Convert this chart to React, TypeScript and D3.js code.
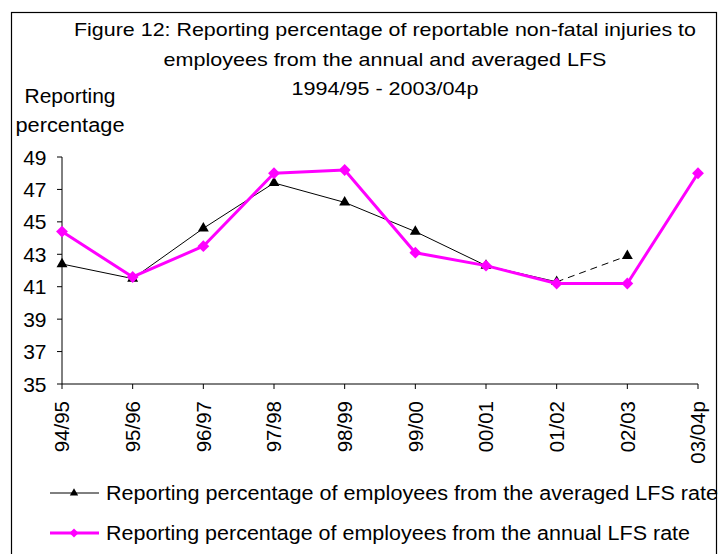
import React from 'react'
import { scalePoint, scaleLinear, line, symbol, symbolTriangle, symbolSquare } from 'd3'

// financial years along the x axis
const categories = ['94/95', '95/96', '96/97', '97/98', '98/99', '99/00', '00/01', '01/02', '02/03', '03/04p']
// reporting percentage, averaged LFS rate (no value for 03/04p)
const averagedLFS: (number | null)[] = [42.4, 41.5, 44.6, 47.4, 46.2, 44.4, 42.3, 41.3, 42.9, null]
// reporting percentage, annual LFS rate
const annualLFS = [44.4, 41.6, 43.5, 48.0, 48.2, 43.1, 42.3, 41.2, 41.2, 48.0]
const yTicks = [35, 37, 39, 41, 43, 45, 47, 49]

const titleLines = [
  'Figure 12: Reporting percentage of reportable non-fatal injuries to',
  'employees from the annual and averaged LFS',
  '1994/95 - 2003/04p',
]
const yTitleLines = ['Reporting', 'percentage']
const legendLabels = [
  'Reporting percentage of employees from the averaged LFS rate',
  'Reporting percentage of employees from the annual LFS rate',
]

const width = 722
const height = 554
const margin = { top: 157, right: 24, bottom: 170, left: 62 }
const font = '"Liberation Sans", Arial, sans-serif'
const magenta = '#ff00ff'

const titleWidths = [622, 443, 187]
const yTitleWidths = [91, 109]
const legendWidths = [612, 584]

export default function App() {
  const x = scalePoint<string>()
    .domain(categories)
    .range([margin.left, width - margin.right])

  const y = scaleLinear()
    .domain([35, 49])
    .range([height - margin.bottom, margin.top])

  const pts = (vals: (number | null)[]) =>
    vals.map((v, i) => ({ c: categories[i], v })).filter(d => d.v !== null) as { c: string; v: number }[]

  const path = line<{ c: string; v: number }>()
    .x(d => x(d.c)!)
    .y(d => y(d.v))

  const avg = pts(averagedLFS)
  const avgSolid = avg.slice(0, 8)
  const avgDashed = avg.slice(7, 9)
  const ann = pts(annualLFS)

  const tri = symbol(symbolTriangle, 52)()!
  const triSmall = symbol(symbolTriangle, 30)()!
  const dia = symbol(symbolSquare, 70)()!
  const diaSmall = symbol(symbolSquare, 40)()!

  const x0 = margin.left
  const x1 = width - margin.right
  const yBase = y(35)

  return (
    <svg width={width} height={height} style={{ position: 'absolute', left: 0, top: 0, background: '#fff' }}
      fontFamily={font}>
      <rect x={11.5} y={12.5} width={705} height={560} fill="#fff" stroke="#000" strokeWidth={1.2} />

      {/* title */}
      {titleLines.map((t, i) => (
        <text key={t} x={385} y={36 + i * 29.5} textAnchor="middle" fontSize={19}
          textLength={titleWidths[i]} lengthAdjust="spacingAndGlyphs">{t}</text>
      ))}
      {yTitleLines.map((t, i) => (
        <text key={t} x={70} y={103 + i * 29} textAnchor="middle" fontSize={19.5}
          textLength={yTitleWidths[i]} lengthAdjust="spacingAndGlyphs">{t}</text>
      ))}

      {/* y axis */}
      <line x1={x0} x2={x0} y1={y(49)} y2={yBase} stroke="#000" />
      {yTicks.map(t => (
        <g key={t} transform={`translate(0,${y(t)})`}>
          <line x1={x0 - 5} x2={x0} stroke="#000" />
          <text x={46.5} dy="0.36em" textAnchor="end" fontSize={21}>{t}</text>
        </g>
      ))}

      {/* x axis */}
      <line x1={x0} x2={x1} y1={yBase} y2={yBase} stroke="#000" />
      {categories.map(c => (
        <g key={c} transform={`translate(${x(c)},${yBase})`}>
          <line y1={0} y2={5} stroke="#000" />
          <text transform="rotate(-90)" x={-17} dy="0.36em" textAnchor="end" fontSize={20.5}>{c}</text>
        </g>
      ))}

      {/* averaged LFS series */}
      <path d={path(avgSolid)!} fill="none" stroke="#000" strokeWidth={1} />
      <path d={path(avgDashed)!} fill="none" stroke="#000" strokeWidth={1} strokeDasharray="7,5" />
      {avg.map(d => (
        <path key={d.c} d={tri} transform={`translate(${x(d.c)},${y(d.v)})`} fill="#000" />
      ))}

      {/* annual LFS series */}
      <path d={path(ann)!} fill="none" stroke={magenta} strokeWidth={3} strokeLinejoin="round" />
      {ann.map(d => (
        <path key={d.c} d={dia} transform={`translate(${x(d.c)},${y(d.v)}) rotate(45)`} fill={magenta} />
      ))}

      {/* legend */}
      <g transform="translate(0,493)">
        <line x1={50} x2={99} stroke="#000" />
        <path d={triSmall} transform="translate(74,0)" fill="#000" />
        <text x={106} dy="0.35em" fontSize={20} textLength={legendWidths[0]} lengthAdjust="spacingAndGlyphs">{legendLabels[0]}</text>
      </g>
      <g transform="translate(0,533)">
        <line x1={50} x2={99} stroke={magenta} strokeWidth={3} />
        <path d={diaSmall} transform="translate(74,0) rotate(45)" fill={magenta} />
        <text x={106} dy="0.35em" fontSize={20} textLength={legendWidths[1]} lengthAdjust="spacingAndGlyphs">{legendLabels[1]}</text>
      </g>
    </svg>
  )
}
